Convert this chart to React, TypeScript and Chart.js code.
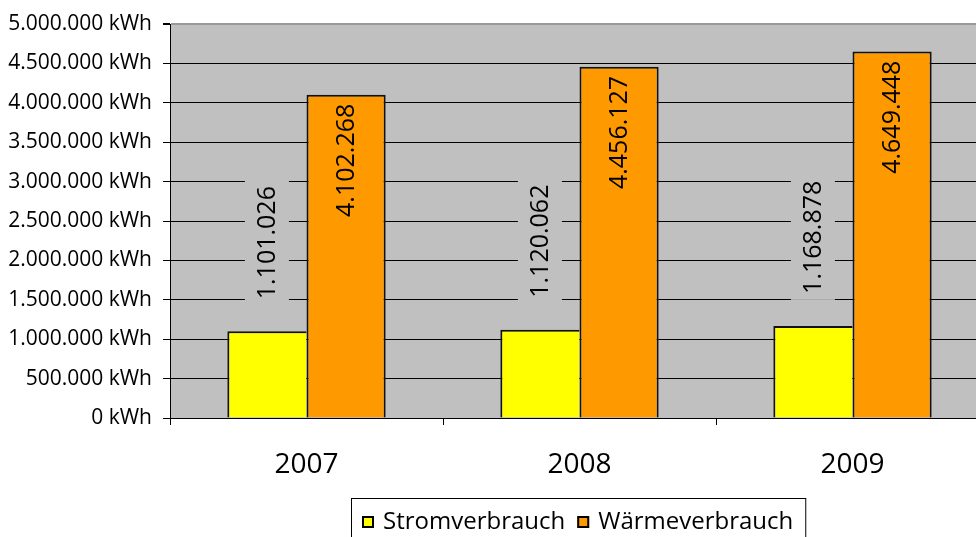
import React, { useEffect, useRef } from "react";
import { Chart, registerables } from "chart.js";
Chart.register(...registerables);

const categories = ["2007", "2008", "2009"];
const stromValues = [1101026, 1120062, 1168878];
const waermeValues = [4102268, 4456127, 4649448];
const seriesNames = ["Stromverbrauch", "Wärmeverbrauch"];
const seriesColors = ["#FFFF00", "#FF9900"];
const yMax = 5000000;
const yStep = 500000;

const FONT = '"Open Sans", "DejaVu Sans", sans-serif';

const fmt = (v: number) =>
  Math.round(v)
    .toString()
    .replace(/\B(?=(\d{3})+(?!\d))/g, ".");

const bgPlugin = {
  id: "plotBg",
  beforeDraw(chart: any) {
    const { ctx, chartArea: a } = chart;
    ctx.save();
    ctx.fillStyle = "#C0C0C0";
    ctx.fillRect(a.left, a.top, a.right - a.left, a.bottom - a.top);
    ctx.restore();
  },
};

const labelPlugin = {
  id: "valueLabels",
  afterDatasetsDraw(chart: any) {
    const { ctx } = chart;
    ctx.save();
    ctx.font = `25px ${FONT}`;
    ctx.fillStyle = "#000";
    ctx.textBaseline = "middle";
    chart.data.datasets.forEach((ds: any, i: number) => {
      const meta = chart.getDatasetMeta(i);
      meta.data.forEach((bar: any, j: number) => {
        const text = fmt(ds.data[j]);
        const w = ctx.measureText(text).width;
        if (i === 0) {
          const start = bar.y - 32;
          ctx.fillStyle = "#C0C0C0";
          ctx.fillRect(bar.x - 22, start - w - 6, 44, w + 12);
          ctx.fillStyle = "#000";
          ctx.save();
          ctx.translate(bar.x + 1, start);
          ctx.rotate(-Math.PI / 2);
          ctx.textAlign = "left";
          ctx.fillText(text, 0, 0);
          ctx.restore();
        } else {
          ctx.save();
          ctx.translate(bar.x + 1, bar.y + 9);
          ctx.rotate(-Math.PI / 2);
          ctx.textAlign = "right";
          ctx.fillText(text, 0, 0);
          ctx.restore();
        }
      });
    });
    ctx.restore();
  },
};

const legendPlugin = {
  id: "boxLegend",
  afterDraw(chart: any) {
    const { ctx, chartArea: a } = chart;
    ctx.save();
    ctx.font = `24px ${FONT}`;
    const widths = seriesNames.map((n) => ctx.measureText(n).width);
    const padL = 11,
      marker = 12,
      gapM = 9,
      gapItem = 12,
      padR = 12;
    const total =
      padL + marker + gapM + widths[0] + gapItem + marker + gapM + widths[1] + padR;
    const cx = (a.left + a.right) / 2 - 1;
    const left = Math.round(cx - total / 2);
    const top = 498;
    ctx.strokeStyle = "#000";
    ctx.lineWidth = 1;
    ctx.strokeRect(left + 0.5, top + 0.5, total, 60);
    let x = left + padL;
    const cy = 522;
    seriesNames.forEach((n, i) => {
      ctx.fillStyle = seriesColors[i];
      ctx.fillRect(x, cy - 6, marker, marker);
      ctx.strokeStyle = "#000";
      ctx.lineWidth = 2;
      ctx.strokeRect(x + 1, cy - 5, marker - 2, marker - 2);
      x += marker + gapM;
      ctx.fillStyle = "#000";
      ctx.textBaseline = "middle";
      ctx.textAlign = "left";
      ctx.fillText(n, x, cy);
      x += widths[i] + gapItem;
    });
    ctx.restore();
  },
};

export default function App() {
  const ref = useRef<HTMLCanvasElement>(null);
  useEffect(() => {
    if (!ref.current) return;
    Chart.defaults.font.family = FONT;
    const chart = new Chart(ref.current, {
      type: "bar",
      data: {
        labels: categories,
        datasets: [
          {
            label: seriesNames[0],
            data: stromValues,
            backgroundColor: seriesColors[0],
            borderColor: "#111",
            borderWidth: { left: 2, top: 2, right: 0, bottom: 0 },
            borderSkipped: false,
            categoryPercentage: 0.58,
            barPercentage: 1,
          },
          {
            label: seriesNames[1],
            data: waermeValues,
            backgroundColor: seriesColors[1],
            borderColor: "#111",
            borderWidth: { left: 2, top: 2, right: 2, bottom: 0 },
            borderSkipped: false,
            categoryPercentage: 0.58,
            barPercentage: 1,
          },
        ],
      },
      options: {
        responsive: false,
        animation: false,
        devicePixelRatio: 1,
        layout: { padding: { top: 24, right: 11, left: 0, bottom: 0 } },
        plugins: { legend: { display: false }, tooltip: { enabled: false } },
        scales: {
          x: {
            grid: {
              offset: true,
              drawOnChartArea: false,
              drawTicks: true,
              tickLength: 7,
              color: "#000",
            },
            border: { color: "#000" },
            ticks: { font: { size: 28, family: FONT }, color: "#000", padding: 23 },
            afterFit(s: any) {
              s.height = 119;
            },
          },
          y: {
            min: 0,
            max: yMax,
            ticks: {
              stepSize: yStep,
              callback: (v: any) => fmt(Number(v)) + " kWh",
              font: { size: 21, family: FONT },
              color: "#000",
              padding: 11,
            },
            grid: {
              color: (c: any) => (c.tick && c.tick.value === yMax ? "#999" : "#000"),
              lineWidth: (c: any) => (c.tick && c.tick.value === yMax ? 2 : 1),
              tickColor: "#000",
              tickLength: 7,
            },
            border: { color: "#000" },
            afterFit(s: any) {
              s.width = 170;
            },
          },
        },
      },
      plugins: [bgPlugin, labelPlugin, legendPlugin],
    });
    return () => chart.destroy();
  }, []);
  return (
    <div
      style={{
        position: "absolute",
        left: 0,
        top: 0,
        width: 976,
        height: 537,
        overflow: "hidden",
        background: "#fff",
      }}
    >
      <canvas ref={ref} width={1000} height={537} style={{ display: "block" }} />
    </div>
  );
}
